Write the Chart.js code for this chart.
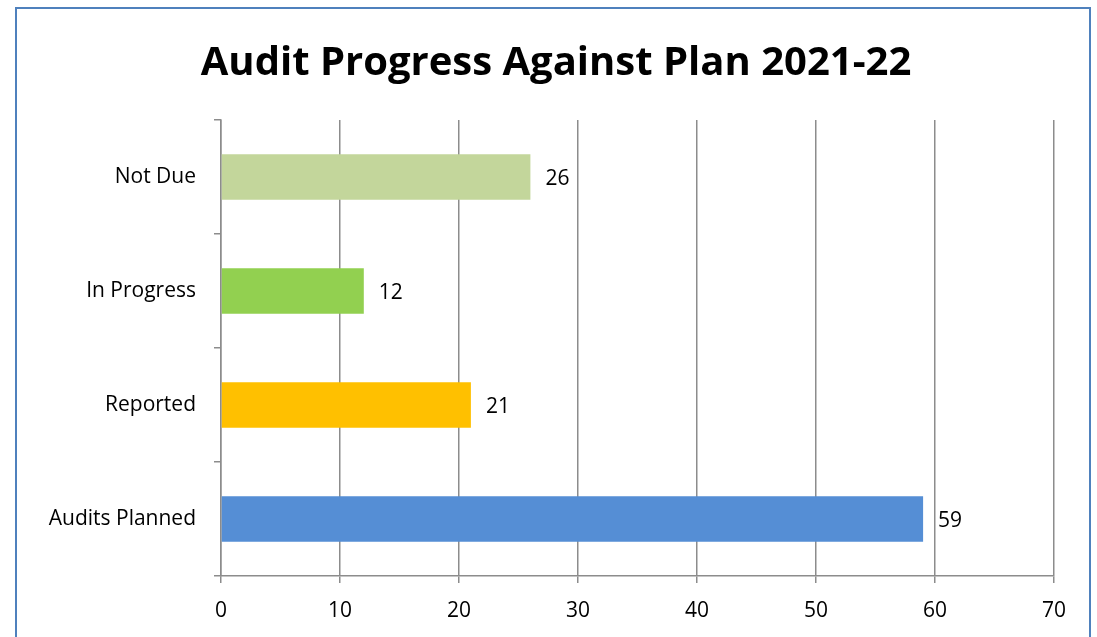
<!DOCTYPE html>
<html>
<head>
<meta charset="utf-8">
<script src="https://cdn.jsdelivr.net/npm/chart.js@4/dist/chart.umd.min.js"></script>
<style>
  html, body { margin: 0; padding: 0; background: #fff; }
  #wrap { position: relative; width: 1097px; height: 637px; overflow: hidden; }
  #frame { position: absolute; left: 15px; top: 7px; width: 1076px; height: 700px; border: 2px solid #4f81bd; box-sizing: border-box; }
  canvas { position: absolute; left: 0; top: 0; }
</style>
</head>
<body>
<div id="wrap">
  <div id="frame"></div>
  <canvas id="chart" width="1097" height="637"></canvas>
</div>
<script>
// data
const categories = ['Not Due', 'In Progress', 'Reported', 'Audits Planned'];
const counts = [26, 12, 21, 59];
const barColors = ['#c3d69b', '#92d050', '#ffc000', '#558ed5'];
const xTicks = [0, 10, 20, 30, 40, 50, 60, 70];

const FONT = '"Open Sans", Lato, sans-serif';
const GRID = '#8c8c8c';

// value labels at the end of each bar
const barLabels = {
    id: 'barLabels',
    afterDatasetsDraw(chart) {
        const ctx = chart.ctx;
        const meta = chart.getDatasetMeta(0);
        ctx.save();
        ctx.font = '21px ' + FONT;
        ctx.fillStyle = '#000';
        ctx.textAlign = 'left';
        ctx.textBaseline = 'middle';
        meta.data.forEach((bar, i) => {
            ctx.fillText(String(counts[i]), bar.x + 15, bar.y + 2);
        });
        ctx.restore();
    }
};

new Chart(document.getElementById('chart').getContext('2d'), {
    type: 'bar',
    data: {
        labels: categories,
        datasets: [{
            data: counts,
            backgroundColor: barColors,
            borderWidth: 0,
            categoryPercentage: 0.8,
            barPercentage: 0.5
        }]
    },
    options: {
        indexAxis: 'y',
        responsive: false,
        animation: false,
        // padding + empty right axis keep the title centred inside the frame
        layout: { padding: { left: 15, right: 0, top: 0, bottom: 0 } },
        plugins: {
            legend: { display: false },
            tooltip: { enabled: false },
            title: {
                display: true,
                text: 'Audit Progress Against Plan 2021-22',
                color: '#000',
                font: { family: FONT, size: 40, weight: 'bold', lineHeight: 1.2 },
                padding: { top: 40, bottom: 32 }
            }
        },
        scales: {
            x: {
                min: 0,
                max: 70,
                afterBuildTicks: s => { s.ticks = xTicks.map(v => ({ value: v })); },
                afterFit: s => { s.height = 61; },
                grid: { color: GRID, lineWidth: 1.5, tickLength: 7, drawOnChartArea: true },
                border: { color: GRID, width: 1.5 },
                ticks: { color: '#000', padding: 15, font: { family: FONT, size: 21 } }
            },
            y: {
                afterFit: s => { s.width = 206; },
                grid: { offset: true, color: GRID, lineWidth: 1.5, tickLength: 7, drawOnChartArea: false },
                border: { color: GRID, width: 1.5 },
                ticks: { color: '#000', padding: 18, font: { family: FONT, size: 21 } }
            },
            spacer: {
                type: 'linear',
                position: 'right',
                afterFit: s => { s.width = 43; },
                grid: { display: false, drawTicks: false },
                border: { display: false },
                ticks: { display: false }
            }
        }
    },
    plugins: [barLabels]
});
</script>
</body>
</html>
